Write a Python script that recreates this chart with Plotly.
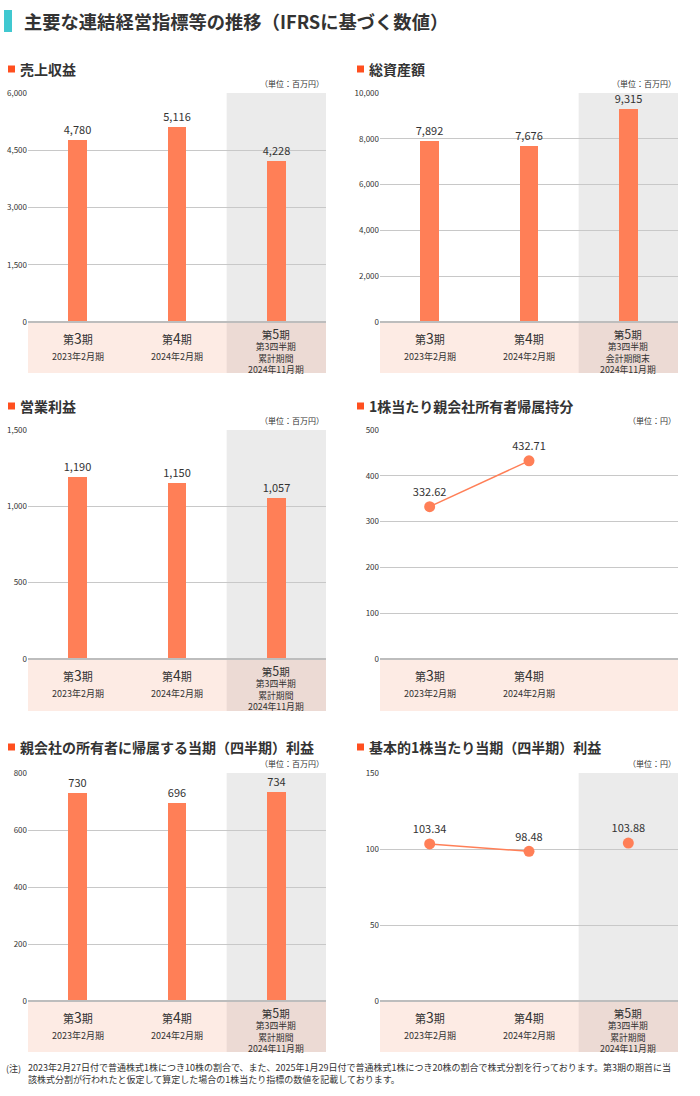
import plotly.graph_objects as go

W, H = 700, 1096
FONT = "Noto Sans CJK JP"

# ---------------- data ----------------
categories = ["第3期", "第4期", "第5期"]
period_nums = ["3", "4", "5"]
period_dates = ["2023年2月期", "2024年2月期", "2024年11月期"]

revenue = [4780, 5116, 4228]
total_assets = [7892, 7676, 9315]
operating_profit = [1190, 1150, 1057]
equity_per_share = [332.62, 432.71]
net_profit = [730, 696, 734]
eps = [103.34, 98.48, 103.88]

titles = ["売上収益", "総資産額", "営業利益", "1株当たり親会社所有者帰属持分",
          "親会社の所有者に帰属する当期（四半期）利益", "基本的1株当たり当期（四半期）利益"]
units = ["（単位：百万円）", "（単位：百万円）", "（単位：百万円）", "（単位：円）",
         "（単位：百万円）", "（単位：円）"]
y_ticks = [[0, 1500, 3000, 4500, 6000], [0, 2000, 4000, 6000, 8000, 10000],
           [0, 500, 1000, 1500], [0, 100, 200, 300, 400, 500],
           [0, 200, 400, 600, 800], [0, 50, 100, 150]]
third_labels = [["第3四半期", "累計期間"], ["第3四半期", "会計期間末"], ["第3四半期", "累計期間"],
                None, ["第3四半期", "累計期間"], ["第3四半期", "累計期間"]]

# ---------------- style ----------------
BAR = "#ff7f57"
MARK = "#ff4f1f"
GRID = "#c8c8c8"
SHADE = "#ebebeb"
BAND = "#fdebe4"
BAND_DARK = "#ecdad4"
TXT = "#333333"


def px(x):
    return x / W


def py(y):
    return 1 - y / H


cols = [(28, 326), (380, 678)]
rows = [(93, 322, 373, 69, 84), (430, 659, 711, 406, 421), (773, 1001, 1052, 747, 763)]

fig = go.Figure()
shapes, annotations = [], []

series = [("bar", revenue), ("bar", total_assets), ("bar", operating_profit),
          ("line", equity_per_share), ("bar", net_profit), ("line2", eps)]


def ann(**kw):
    d = dict(showarrow=False, xanchor="center", yanchor="middle")
    d.update(kw)
    annotations.append(d)


for i in range(6):
    r, c = divmod(i, 2)
    x0, x1 = cols[c]
    top, zero, band_bot, title_y, unit_y = rows[r]
    ax = "" if i == 0 else str(i + 1)
    xref, yref = "x" + ax, "y" + ax
    kind, vals = series[i]
    ticks = y_ticks[i]

    fig.update_layout(**{
        "xaxis" + ax: dict(domain=[px(x0), px(x1)], anchor=yref, type="category",
                           categoryorder="array", categoryarray=categories,
                           range=[-0.5, 2.5], showticklabels=False, showgrid=False,
                           zeroline=False, showline=False, fixedrange=True, automargin=False),
        "yaxis" + ax: dict(domain=[py(zero), py(top)], anchor=xref,
                           range=[0, ticks[-1]], tickvals=ticks, tickformat=",",
                           showgrid=True, gridcolor=GRID, gridwidth=1,
                           zeroline=False, showline=False, ticks="", automargin=False,
                           tickfont=dict(size=8, color=TXT, family=FONT), fixedrange=True),
    })

    # zero line (thicker)
    shapes.append(dict(type="line", xref="paper", yref="paper", x0=px(x0), x1=px(x1),
                       y0=py(zero), y1=py(zero), line=dict(color="#bdbdbd", width=2), layer="above"))

    has_third = third_labels[i] is not None
    if has_third:
        shapes.append(dict(type="rect", xref=xref, yref=yref + " domain", x0=1.5, x1=2.5,
                           y0=0, y1=1, fillcolor=SHADE, line_width=0, layer="below"))
    # category band
    shapes.append(dict(type="rect", xref="paper", yref="paper", x0=px(x0), x1=px(x1),
                       y0=py(band_bot), y1=py(zero + 1), fillcolor=BAND, line_width=0, layer="below"))
    if has_third:
        shapes.append(dict(type="rect", xref=xref, yref="paper", x0=1.5, x1=2.5,
                           y0=py(band_bot), y1=py(zero + 1), fillcolor=BAND_DARK,
                           line_width=0, layer="below"))

    # band texts
    ncat = 3 if (kind == "bar" or has_third) else 2
    for k in range(ncat):
        if k < 2:
            head = f"第<span style='font-size:14px'>{period_nums[k]}</span>期"
            ann(xref=xref, yref="paper", x=k, y=py(zero + 16), text=head,
                font=dict(size=11, color=TXT, family=FONT))
            ann(xref=xref, yref="paper", x=k, y=py(zero + 34), text=period_dates[k],
                font=dict(size=9, color=TXT, family=FONT))
        else:
            head = (f"<span style='font-size:10.5px'>第<span style='font-size:12.5px'>"
                    f"{period_nums[k]}</span>期</span>")
            block = "<br>".join([head] + third_labels[i] + [period_dates[k]])
            ann(xref=xref, yref="paper", x=k, y=py(zero + 27.5), text=block,
                font=dict(size=8.8, color=TXT, family=FONT), borderpad=0)

    # data
    lbl_font = dict(size=11, color=TXT, family=FONT)
    if kind == "bar":
        fig.add_trace(go.Bar(x=categories, y=vals, xaxis=xref, yaxis=yref, width=0.19,
                             marker=dict(color=BAR, line_width=0),
                             text=[f"{v:,}" for v in vals], textposition="outside",
                             constraintext="none", textfont=lbl_font,
                             cliponaxis=False, showlegend=False))
    elif kind == "line":
        fig.add_trace(go.Scatter(x=categories[:len(vals)], y=vals, xaxis=xref, yaxis=yref,
                                 mode="lines+markers+text",
                                 line=dict(color=BAR, width=1.5),
                                 marker=dict(color=BAR, size=11),
                                 text=[f"{v:.2f}" for v in vals], textposition="top center",
                                 textfont=lbl_font, cliponaxis=False, showlegend=False))
    else:
        fig.add_trace(go.Scatter(x=categories[:2], y=vals[:2], xaxis=xref, yaxis=yref,
                                 mode="lines+markers+text",
                                 line=dict(color=BAR, width=1.5),
                                 marker=dict(color=BAR, size=11),
                                 text=[f"{v:.2f}" for v in vals[:2]], textposition="top center",
                                 textfont=lbl_font, cliponaxis=False, showlegend=False))
        fig.add_trace(go.Scatter(x=categories[2:], y=vals[2:], xaxis=xref, yaxis=yref,
                                 mode="markers+text",
                                 marker=dict(color=BAR, size=11),
                                 text=[f"{v:.2f}" for v in vals[2:]], textposition="top center",
                                 textfont=lbl_font, cliponaxis=False, showlegend=False))

    # section title + square
    sq_x = x0 - 20 if c == 0 else x0 - 23
    shapes.append(dict(type="rect", xref="paper", yref="paper", x0=px(sq_x), x1=px(sq_x + 7),
                       y0=py(title_y + 3.5), y1=py(title_y - 3.5), fillcolor=MARK, line_width=0))
    ann(xref="paper", yref="paper", x=px(sq_x + 10), y=py(title_y), xanchor="left",
        text=f"<b>{titles[i]}</b>", font=dict(size=14, color=TXT, family=FONT))
    ann(xref="paper", yref="paper", x=px(x1), y=py(unit_y), xanchor="right",
        text=units[i], font=dict(size=8, color=TXT, family=FONT))

# main title
shapes.append(dict(type="rect", xref="paper", yref="paper", x0=px(4), x1=px(12),
                   y0=py(32), y1=py(10), fillcolor="#40c8d0", line_width=0))
ann(xref="paper", yref="paper", x=px(22), y=py(21), xanchor="left",
    text="<b>主要な連結経営指標等の推移（IFRSに基づく数値）</b>",
    font=dict(size=18.3, color=TXT, family=FONT))

# footnote
ann(xref="paper", yref="paper", x=px(4), y=py(1068), xanchor="left", text="(注)",
    font=dict(size=9, color=TXT, family=FONT))
ann(xref="paper", yref="paper", x=px(26), y=py(1073), xanchor="left", align="left",
    text="2023年2月27日付で普通株式1株につき10株の割合で、また、2025年1月29日付で普通株式1株につき20株の割合で株式分割を行っております。第3期の期首に当"
         "<br>該株式分割が行われたと仮定して算定した場合の1株当たり指標の数値を記載しております。",
    font=dict(size=9, color=TXT, family=FONT))

fig.update_layout(width=W, height=H, margin=dict(l=0, r=0, t=0, b=0, pad=0, autoexpand=False),
                  paper_bgcolor="white", plot_bgcolor="white",
                  shapes=shapes, annotations=annotations,
                  font=dict(family=FONT, color=TXT), bargap=0)

fig.write_html("out.html", config={"displayModeBar": False},
               post_script="document.body.style.margin='0';document.body.style.overflow='hidden';")
